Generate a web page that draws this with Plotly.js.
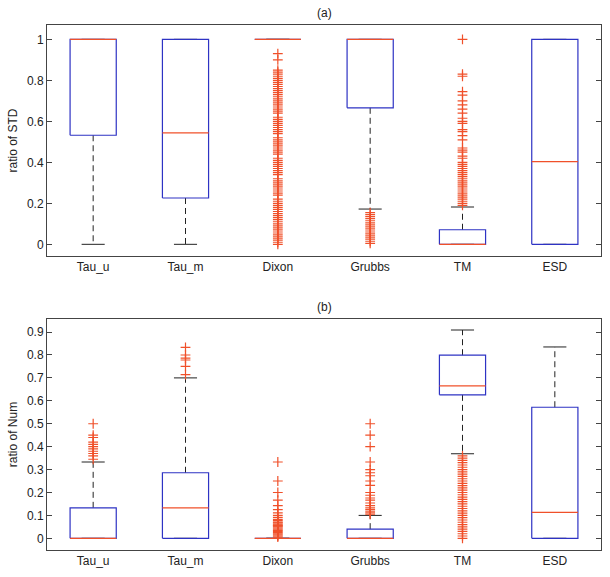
<!DOCTYPE html>
<html>
<head>
<meta charset="utf-8">
<script src="https://cdn.plot.ly/plotly-3.0.1.min.js"></script>
<style>html,body{margin:0;padding:0;background:#fff;}#chart{width:610px;height:577px;}</style>
</head>
<body>
<div id="chart"></div>
<script>
// ---------- data ----------
const categories = ['Tau_u', 'Tau_m', 'Dixon', 'Grubbs', 'TM', 'ESD'];

// (a) ratio of STD
const stdLower  = [0,     0,     1, 0.172, 0,    0];
const stdQ1     = [0.532, 0.226, 1, 0.666, 0,    0];
const stdMedian = [1,     0.544, 1, 1,     0,    0.403];
const stdQ3     = [1,     1,     1, 1,     0.071, 1];
const stdUpper  = [1,     1,     1, 1,     0.182, 1];
const stdOutTau_u = [];
const stdOutTau_m = [];
const stdOutDixon = [0.93, 0.90, 0.85, 0.84, 0.83, 0.82, 0.81, 0.80, 0.79, 0.78, 0.77, 0.76, 0.75, 0.74, 0.73, 0.72, 0.71, 0.70, 0.69, 0.68, 0.67, 0.66, 0.65, 0.64, 0.62, 0.61, 0.60, 0.59, 0.58, 0.57, 0.56, 0.55, 0.54, 0.52, 0.51, 0.50, 0.49, 0.48, 0.47, 0.46, 0.45, 0.44, 0.42, 0.41, 0.40, 0.39, 0.38, 0.37, 0.36, 0.35, 0.34, 0.32, 0.31, 0.30, 0.29, 0.28, 0.27, 0.26, 0.25, 0.24, 0.22, 0.21, 0.20, 0.19, 0.18, 0.17, 0.16, 0.15, 0.14, 0.13, 0.12, 0.11, 0.10, 0.09, 0.08, 0.07, 0.06, 0.05, 0.04, 0.03, 0.02, 0.01, 0.0];
const stdOutGrubbs = [0.155, 0.145, 0.135, 0.125, 0.115, 0.105, 0.095, 0.085, 0.075, 0.065, 0.055, 0.045, 0.035, 0.025, 0.015, 0.005];
const stdOutTM = [1.0, 0.83, 0.82, 0.745, 0.728, 0.70, 0.68, 0.66, 0.64, 0.615, 0.60, 0.59, 0.56, 0.55, 0.53, 0.51, 0.47, 0.46, 0.45, 0.43, 0.42, 0.40, 0.39, 0.38, 0.37, 0.36, 0.35, 0.34, 0.33, 0.32, 0.31, 0.30, 0.29, 0.28, 0.27, 0.26, 0.25, 0.24, 0.23, 0.22, 0.21, 0.20, 0.19];
const stdOutESD = [];

// (b) ratio of Num
const numLower  = [0,     0,     0, 0,    0.369, 0];
const numQ1     = [0,     0,     0, 0,    0.626, 0];
const numMedian = [0,     0.133, 0, 0,    0.665, 0.113];
const numQ3     = [0.133, 0.286, 0, 0.04, 0.799, 0.572];
const numUpper  = [0.333, 0.70,  0, 0.10, 0.909, 0.835];
const numOutTau_u = [0.50, 0.45, 0.44, 0.42, 0.41, 0.40, 0.39, 0.38, 0.37, 0.36, 0.345];
const numOutTau_m = [0.833, 0.80, 0.786, 0.778, 0.75, 0.714];
const numOutDixon = [0.333, 0.25, 0.20, 0.167, 0.143, 0.125, 0.111, 0.10, 0.091, 0.083, 0.077, 0.071, 0.067, 0.0625, 0.059, 0.056, 0.053, 0.05, 0.045, 0.04, 0.035, 0.03, 0.025, 0.02, 0.015, 0.01, 0.005];
const numOutGrubbs = [0.50, 0.45, 0.40, 0.333, 0.30, 0.286, 0.273, 0.25, 0.231, 0.20, 0.188, 0.176, 0.167, 0.154, 0.143, 0.133, 0.125, 0.118, 0.111, 0.105];
const numOutTM = [0.36, 0.35, 0.34, 0.33, 0.32, 0.31, 0.30, 0.29, 0.28, 0.27, 0.26, 0.25, 0.24, 0.23, 0.22, 0.21, 0.20, 0.19, 0.18, 0.17, 0.16, 0.15, 0.14, 0.13, 0.12, 0.11, 0.10, 0.09, 0.08, 0.07, 0.06, 0.05, 0.04, 0.03, 0.02, 0.01, 0.0];
const numOutESD = [];

const stdOutliers = [stdOutTau_u, stdOutTau_m, stdOutDixon, stdOutGrubbs, stdOutTM, stdOutESD];
const numOutliers = [numOutTau_u, numOutTau_m, numOutDixon, numOutGrubbs, numOutTM, numOutESD];

// ---------- styling ----------
const BLUE = '#2e33c4';
const RED = '#f0502a';
const BLACK = '#222222';
const BOXW = 0.25;   // half width of box
const CAPW = 0.125;  // half width of whisker cap

function panelTraces(lower, q1, med, q3, upper, outs, xa, ya) {
  const wx = [], wy = [], cx = [], cy = [], bx = [], by = [], mx = [], my = [], ox = [], oy = [];
  categories.forEach((c, k) => {
    const i = k + 1;
    wx.push(i, i, null, i, i, null);
    wy.push(q3[k], upper[k], null, q1[k], lower[k], null);
    cx.push(i - CAPW, i + CAPW, null, i - CAPW, i + CAPW, null);
    cy.push(upper[k], upper[k], null, lower[k], lower[k], null);
    bx.push(i - BOXW, i + BOXW, i + BOXW, i - BOXW, i - BOXW, null);
    by.push(q1[k], q1[k], q3[k], q3[k], q1[k], null);
    mx.push(i - BOXW, i + BOXW, null);
    my.push(med[k], med[k], null);
    outs[k].forEach(v => { ox.push(i); oy.push(v); });
  });
  const base = {xaxis: xa, yaxis: ya, hoverinfo: 'skip', showlegend: false};
  return [
    Object.assign({x: wx, y: wy, mode: 'lines', line: {color: BLACK, width: 1, dash: '6px,4px'}}, base),
    Object.assign({x: cx, y: cy, mode: 'lines', line: {color: BLACK, width: 1}}, base),
    Object.assign({x: bx, y: by, mode: 'lines', line: {color: BLUE, width: 1.2}}, base),
    Object.assign({x: mx, y: my, mode: 'lines', line: {color: RED, width: 1.2}}, base),
    Object.assign({x: ox, y: oy, mode: 'markers', marker: {symbol: 'cross-thin-open', size: 7, color: RED, line: {color: RED, width: 1.2}}}, base)
  ];
}

const data = [].concat(
  panelTraces(stdLower, stdQ1, stdMedian, stdQ3, stdUpper, stdOutliers, 'x', 'y'),
  panelTraces(numLower, numQ1, numMedian, numQ3, numUpper, numOutliers, 'x2', 'y2')
);

const font = {family: 'Liberation Sans, Arial, sans-serif', size: 12, color: '#222'};
const xCommon = {
  range: [0.5, 6.5], tickvals: [1, 2, 3, 4, 5, 6], ticktext: categories,
  showline: true, mirror: true, linecolor: '#444', linewidth: 1,
  ticks: '', showgrid: false, zeroline: false, tickfont: font
};
const yCommon = {
  showline: true, mirror: 'ticks', linecolor: '#444', linewidth: 1,
  ticks: 'inside', ticklen: 5, tickcolor: '#444', showgrid: false, zeroline: false,
  tickfont: font
};

const layout = {
  width: 610, height: 577,
  margin: {l: 47, r: 9, t: 25, b: 27},
  paper_bgcolor: '#fff', plot_bgcolor: '#fff',
  font: font,
  showlegend: false,
  xaxis: Object.assign({}, xCommon, {anchor: 'y'}),
  yaxis: Object.assign({}, yCommon, {
    domain: [0.56, 1], range: [-0.057, 1.07], anchor: 'x',
    tickvals: [0, 0.2, 0.4, 0.6, 0.8, 1], ticktext: ['0', '0.2', '0.4', '0.6', '0.8', '1'],
    title: {text: 'ratio of STD', font: font, standoff: 6}
  }),
  xaxis2: Object.assign({}, xCommon, {anchor: 'y2'}),
  yaxis2: Object.assign({}, yCommon, {
    domain: [0, 0.44], range: [-0.051, 0.957], anchor: 'x2',
    tickvals: [0, 0.1, 0.2, 0.3, 0.4, 0.5, 0.6, 0.7, 0.8, 0.9],
    ticktext: ['0', '0.1', '0.2', '0.3', '0.4', '0.5', '0.6', '0.7', '0.8', '0.9'],
    title: {text: 'ratio of Num', font: font, standoff: 6}
  }),
  annotations: [
    {text: '(a)', xref: 'paper', yref: 'paper', x: 0.5, y: 1, yshift: 3, xanchor: 'center', yanchor: 'bottom', showarrow: false, font: font},
    {text: '(b)', xref: 'paper', yref: 'paper', x: 0.5, y: 0.44, yshift: 3, xanchor: 'center', yanchor: 'bottom', showarrow: false, font: font}
  ]
};

Plotly.newPlot('chart', data, layout, {displayModeBar: false, staticPlot: true});
</script>
</body>
</html>
